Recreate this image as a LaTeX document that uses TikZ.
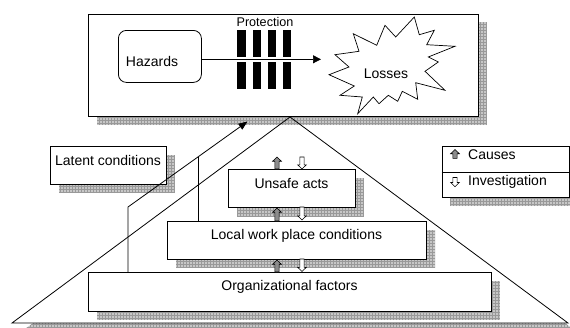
\documentclass[tikz,border=0pt]{standalone}
\usepackage{fontspec}
\setmainfont{Liberation Sans}
\usetikzlibrary{arrows.meta,calc}
\newcommand\myshadow[4]{\begin{scope}\clip (#1,#2) rectangle (#3,#4);\fill[shadowfill] (#1,#2) rectangle (#3,#4);\draw[shadowgrid] (#1,#2) grid (#3,#4);\end{scope}}
\newcommand\myup[3]{\filldraw[causefill] (#1-2.1,#3) -- (#1-2.1,#2+4.2) -- (#1-4.3,#2+4.2) -- (#1,#2) -- (#1+4.3,#2+4.2) -- (#1+2.1,#2+4.2) -- (#1+2.1,#3) -- cycle;}
\newcommand\mydown[3]{\filldraw[invfill] (#1-2.1,#2) -- (#1-2.1,#3-4.2) -- (#1-4.3,#3-4.2) -- (#1,#3) -- (#1+4.3,#3-4.2) -- (#1+2.1,#3-4.2) -- (#1+2.1,#2) -- cycle;}
\begin{document}
\begin{tikzpicture}[x=1pt,y=-1pt,
  shadowfill/.style={fill=black!22},
  shadowgrid/.style={draw=black!40,line width=0.35pt,step=3pt},
  box/.style={draw=black,line width=0.8pt,fill=white,inner sep=0pt,anchor=north west},
  txt/.style={anchor=base,inner sep=0pt,font=\fontsize{14}{16}\selectfont},
  ltxt/.style={anchor=base west,inner sep=0pt,font=\fontsize{14}{16}\selectfont},
  bar/.style={fill=black},
  causefill/.style={fill=black!45,draw=black,line width=0.6pt},
  invfill/.style={fill=white,draw=black,line width=0.6pt},
  conn/.style={draw=black,line width=0.8pt},
  tip/.style={-{Triangle[length=9pt,width=7pt]}}]
\useasboundingbox (0,0) rectangle (570,327);
\fill[white] (0,0) rectangle (570,327);
% triangle shadow and fill
\begin{scope}
\clip (0,323.5) rectangle (570,327);
\fill[shadowfill] (21,332) -- (577,332) -- (299,126) -- cycle;
\clip (21,332) -- (577,332) -- (299,126) -- cycle;
\draw[shadowgrid] (0,320) grid (570,330);
\end{scope}
\fill[white] (12,323) -- (568,323) -- (290,117) -- cycle;
% shadows
\myshadow{97}{22}{487}{125}
\myshadow{59}{155}{175}{193}
\myshadow{237}{178}{364}{216}
\myshadow{176}{230}{435}{268}
\myshadow{97}{281}{500}{320}
\myshadow{450}{155}{578}{206}
% triangle
\draw[conn,line join=miter] (12,323) -- (568,323) -- (290,117) -- cycle;
% top box
\node[box,minimum width=390,minimum height=102] (top) at (88,14) {};
\node[box,minimum width=83,minimum height=52,rounded corners=8pt] (haz) at (118,30) {};
\node[txt] (haztxt) at (152,66) {Hazards};
\node[anchor=base,inner sep=0pt,font=\fontsize{12.6}{14}\selectfont] (prot) at (265,26.7) {Protection};
\fill[bar] (237.3,30) rectangle ++(8.4,26.7);
\fill[bar] (252.6,30) rectangle ++(8.4,26.7);
\fill[bar] (267.5,30) rectangle ++(8.4,26.7);
\fill[bar] (282.7,30) rectangle ++(8.4,26.7);
\fill[bar] (237.3,61.7) rectangle ++(8.4,27.6);
\fill[bar] (252.6,61.7) rectangle ++(8.4,27.6);
\fill[bar] (267.5,61.7) rectangle ++(8.4,27.6);
\fill[bar] (282.7,61.7) rectangle ++(8.4,27.6);
\coordinate (hazout) at (haz.east |- 0,59.3);
\coordinate (lossin) at (321,59.3);
\draw[conn,line width=0.7pt,-{Triangle[length=8pt,width=8pt]}] (hazout) -- (lossin);
% losses star
\filldraw[fill=white,draw=black,line width=0.7pt,line join=miter]
 (414.3,17) -- (419.3,34.7) -- (434.3,30.3) -- (426.7,44.7) -- (455,46.3) -- (428.3,57) -- (438.3,62) -- (425,71.3) -- (445,90.3) -- (415.7,82.7) -- (417.7,99.3) -- (402.3,91.3) -- (397.7,101.3) -- (388.3,95.3) -- (379,103.7) -- (373.3,97) -- (357.7,113.7) -- (362.3,97) -- (340,95.3) -- (354.3,86) -- (329,74.7) -- (349,67) -- (335,54.7) -- (359,51.3) -- (353.3,33.7) -- (376.7,45.3) -- (385,25.3) -- (395.7,37) -- cycle;
\node[txt] (loss) at (386,78) {Losses};
% boxes
\node[box,minimum width=116,minimum height=38] (latent) at (50,146) {};
\node[txt] (latenttxt) at (108,165.5) {Latent conditions};
\node[box,minimum width=403,minimum height=39] (org) at (88,272) {};
\node[txt] (orgtxt) at (289.5,290.5) {Organizational factors};
\node[box,minimum width=259,minimum height=38] (local) at (167,221) {};
\node[txt] (localtxt) at (296.5,239.5) {Local work place conditions};
\node[box,minimum width=127,minimum height=38] (unsafe) at (228,169) {};
\node[txt] (unsafetxt) at (291.5,188.3) {Unsafe acts};
% latent connectors
\coordinate (orgtop) at (org.north west -| 128,0);
\coordinate (bend) at (128,207);
\coordinate (latentend) at (247.5,121.5);
\coordinate (localtop) at (local.north west -| 198,0);
\coordinate (join) at (198,157);
\draw[conn,tip] (orgtop) -- (bend) -- (latentend);
\draw[conn] (localtop) -- (join);
% causes / investigation arrows
\myup{277}{157}{169}
\mydown{302}{157}{169}
\myup{277}{208}{221}
\mydown{302}{207}{220}
\myup{277}{260}{272}
\mydown{302}{259}{271.5}
% legend
\node[box,minimum width=127.6,minimum height=51] (legend) at (441.7,146) {};
\draw[conn] (legend.west) ++(0,0.5) -- ($(legend.east)+(0,0.5)$);
\myup{455}{149.5}{158.3}
\mydown{455}{177.5}{186.7}
\node[ltxt] (causes) at (468,159) {Causes};
\node[ltxt] (inv) at (468,185.7) {Investigation};
\end{tikzpicture}
\end{document}
